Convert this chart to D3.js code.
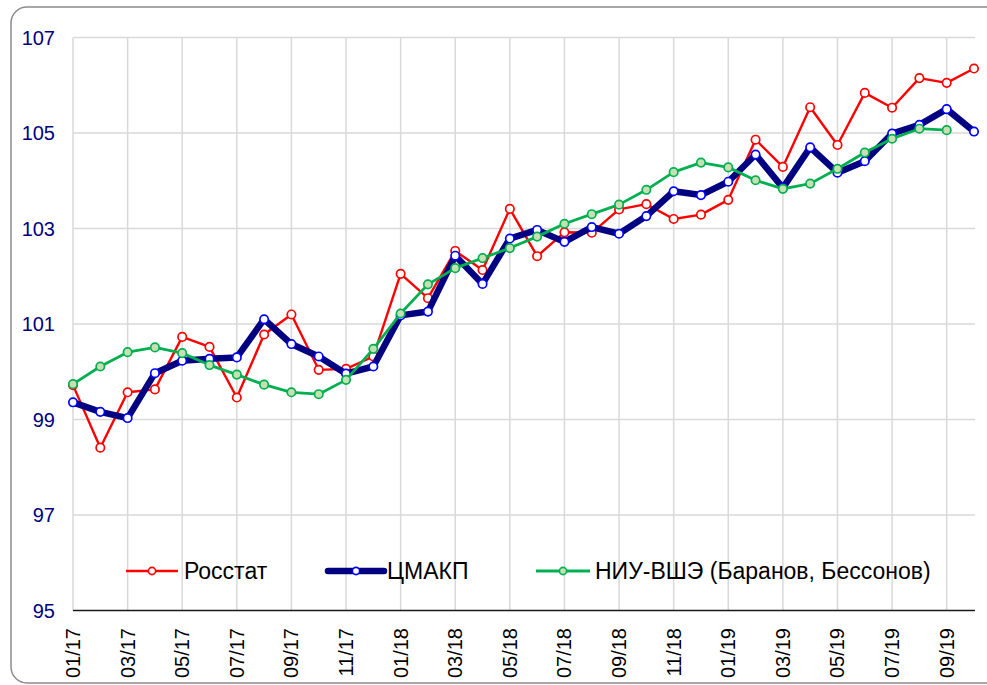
<!DOCTYPE html>
<html>
<head>
<meta charset="utf-8">
<script src="https://cdn.jsdelivr.net/npm/d3@7"></script>
<style>
  body { margin: 0; background: #fff; }
  svg { display: block; font-family: "Liberation Sans", Arial, sans-serif; }
</style>
</head>
<body>
<div id="chart"></div>
<script>
const months = ["01/17","02/17","03/17","04/17","05/17","06/17","07/17","08/17","09/17","10/17","11/17","12/17",
                "01/18","02/18","03/18","04/18","05/18","06/18","07/18","08/18","09/18","10/18","11/18","12/18",
                "01/19","02/19","03/19","04/19","05/19","06/19","07/19","08/19","09/19","10/19"];
const rosstat = [99.72, 98.41, 99.57, 99.63, 100.73, 100.52, 99.46, 100.78, 101.2, 100.04, 100.06, 100.32,
                 102.05, 101.54, 102.53, 102.13, 103.41, 102.42, 102.92, 102.91, 103.4, 103.51, 103.2, 103.29,
                 103.6, 104.86, 104.29, 105.54, 104.75, 105.84, 105.53, 106.15, 106.05, 106.35];
const cmakp = [99.36, 99.16, 99.03, 99.97, 100.23, 100.27, 100.3, 101.1, 100.58, 100.32, 99.96, 100.11,
               101.18, 101.26, 102.43, 101.84, 102.79, 102.97, 102.72, 103.03, 102.89, 103.26, 103.78, 103.7,
               103.98, 104.55, 103.85, 104.7, 104.17, 104.41, 104.99, 105.17, 105.5, 105.03];
const hse = [99.74, 100.11, 100.41, 100.51, 100.39, 100.14, 99.94, 99.73, 99.57, 99.53, 99.83, 100.48,
             101.22, 101.83, 102.17, 102.38, 102.59, 102.83, 103.1, 103.3, 103.5, 103.81, 104.18, 104.38,
             104.28, 104.01, 103.83, 103.94, 104.25, 104.59, 104.88, 105.09, 105.06, null];
const yTicks = [95, 97, 99, 101, 103, 105, 107];
const seriesNames = ["Росстат", "ЦМАКП", "НИУ-ВШЭ (Баранов, Бессонов)"];

const width = 987, height = 685;
const plot = { left: 73, right: 974, top: 37.5, bottom: 610.5 };
const markerR = 4.2;

const svg = d3.select("#chart").append("svg")
    .attr("width", width)
    .attr("height", height);

// outer frame with rounded corners (cut by the image edge)
svg.append("rect")
    .attr("x", 11).attr("y", 7)
    .attr("width", 990).attr("height", 676)
    .attr("rx", 16).attr("ry", 16)
    .attr("fill", "#fff")
    .attr("stroke", "#8c8c8c")
    .attr("stroke-width", 1.5);

const x = d3.scalePoint().domain(months).range([plot.left, plot.right]);
const y = d3.scaleLinear().domain([95, 107]).range([plot.bottom, plot.top]);

// horizontal gridlines
svg.append("g")
    .selectAll("line")
    .data(yTicks.filter(d => d !== 95))
    .join("line")
    .attr("x1", plot.left).attr("x2", plot.right + 1)
    .attr("y1", d => y(d)).attr("y2", d => y(d))
    .attr("stroke", "#d9d9d9")
    .attr("stroke-width", 1.5);

// vertical gridlines on labelled months
const labelled = months.filter((m, i) => i % 2 === 0);
svg.append("g")
    .selectAll("line")
    .data(labelled)
    .join("line")
    .attr("x1", d => x(d)).attr("x2", d => x(d))
    .attr("y1", plot.top).attr("y2", plot.bottom)
    .attr("stroke", "#d9d9d9")
    .attr("stroke-width", 1.5);

// x axis baseline
svg.append("line")
    .attr("x1", plot.left).attr("x2", plot.right + 1)
    .attr("y1", plot.bottom).attr("y2", plot.bottom)
    .attr("stroke", "#1a1a1a")
    .attr("stroke-width", 1.5);

// y tick labels
svg.append("g")
    .selectAll("text")
    .data(yTicks)
    .join("text")
    .attr("x", 55)
    .attr("y", d => y(d))
    .attr("dy", "0.35em")
    .attr("text-anchor", "end")
    .attr("font-size", 20)
    .attr("fill", "#000080")
    .text(d => d);

// x tick labels, rotated
svg.append("g")
    .selectAll("text")
    .data(labelled)
    .join("text")
    .attr("transform", d => `translate(${x(d)},628) rotate(-90)`)
    .attr("dy", "0.35em")
    .attr("text-anchor", "end")
    .attr("font-size", 20)
    .attr("fill", "#000")
    .text(d => d);

const styles = [
    { data: rosstat, line: "#ff0000", lw: 2.4, mStroke: "#ff0000", mFill: "#ffffff" },
    { data: cmakp, line: "#000080", lw: 6.5, mStroke: "#0000ff", mFill: "#ffffff" },
    { data: hse, line: "#00b050", lw: 2.8, mStroke: "#00b050", mFill: "#c6e0b4" }
];

const line = d3.line()
    .defined(d => d != null)
    .x((d, i) => x(months[i]))
    .y(d => y(d));

styles.forEach(s => {
    svg.append("path")
        .datum(s.data)
        .attr("d", line)
        .attr("fill", "none")
        .attr("stroke", s.line)
        .attr("stroke-width", s.lw)
        .attr("stroke-linejoin", "round");

    svg.append("g")
        .selectAll("circle")
        .data(s.data.map((v, i) => ({ v, m: months[i] })).filter(d => d.v != null))
        .join("circle")
        .attr("cx", d => x(d.m))
        .attr("cy", d => y(d.v))
        .attr("r", markerR)
        .attr("fill", s.mFill)
        .attr("stroke", s.mStroke)
        .attr("stroke-width", 1.7);
});

// legend
const legendY = 571;
const legendItems = [
    { x0: 126, x1: 178, tx: 184 },
    { x0: 328, x1: 384, tx: 387 },
    { x0: 536, x1: 590, tx: 595 }
];
legendItems.forEach((l, i) => {
    const s = styles[i];
    const g = svg.append("g");
    g.append("line")
        .attr("x1", l.x0).attr("x2", l.x1)
        .attr("y1", legendY).attr("y2", legendY)
        .attr("stroke", s.line)
        .attr("stroke-width", s.lw)
        .attr("stroke-linecap", i === 1 ? "round" : "butt");
    g.append("circle")
        .attr("cx", (l.x0 + l.x1) / 2).attr("cy", legendY)
        .attr("r", 3.6)
        .attr("fill", s.mFill)
        .attr("stroke", s.mStroke)
        .attr("stroke-width", 1.6);
    g.append("text")
        .attr("x", l.tx).attr("y", legendY)
        .attr("dy", "0.35em")
        .attr("font-size", 23)
        .attr("fill", "#000")
        .text(seriesNames[i]);
});
</script>
</body>
</html>
